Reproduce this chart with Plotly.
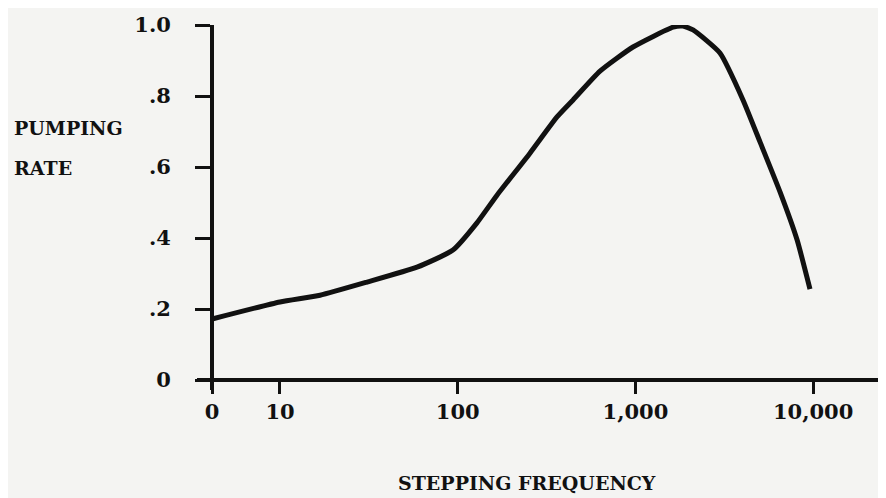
"""Pumping rate vs stepping frequency, redrawn from a scanned figure."""
import plotly.graph_objects as go

# "0" on the frequency axis sits about 0.38 decade below 10
ZERO_POS = 4.15

freq = [ZERO_POS, 10, 16.8, 30.9, 59, 94, 128, 166, 255, 362, 446, 632, 969,
        1630, 1850, 2110, 2990, 4030, 5030, 6510, 8120, 9600]
rate = [0.172, 0.22, 0.239, 0.276, 0.318, 0.366, 0.442, 0.52, 0.639, 0.741,
        0.789, 0.870, 0.938, 0.994, 0.997, 0.986, 0.921, 0.789, 0.670, 0.530, 0.395, 0.256]

x_tickvals = [ZERO_POS, 10, 100, 1000, 10000]
x_ticktext = ['0', '10', '100', '1,000', '10,000']
y_tickvals = [0, 0.2, 0.4, 0.6, 0.8, 1.0]
y_ticktext = ['0', '.2', '.4', '.6', '.8', '1.0']

INK = '#111111'
PAPER = '#f4f4f2'
FONT = 'DejaVu Serif'
TICK_FONT = dict(family=FONT, size=21, color=INK, weight='bold')

fig = go.Figure(go.Scatter(
    x=freq,
    y=rate,
    mode='lines',
    line=dict(color=INK, width=5, shape='spline', smoothing=0.5),
    hoverinfo='skip'
))

# page body adds an 8px margin, so the figure is 8px smaller and margins shift by 8
fig.update_layout(
    width=878,
    height=490,
    margin=dict(l=189, r=0, t=17, b=108),
    paper_bgcolor=PAPER,
    plot_bgcolor=PAPER,
    showlegend=False,
    font=dict(family=FONT, size=19, color=INK, weight='bold'),
    xaxis=dict(
        type='log',
        range=[0.533, 4.41],
        anchor='free',
        position=0.0274,
        tickvals=x_tickvals,
        ticktext=x_ticktext,
        tickfont=TICK_FONT,
        ticks='outside',
        ticklen=12,
        tickwidth=3,
        tickcolor=INK,
        showline=True,
        linewidth=4,
        linecolor=INK,
        showgrid=False,
        zeroline=False
    ),
    yaxis=dict(
        range=[-0.028, 1.0],
        anchor='free',
        position=0.0218,
        tickvals=y_tickvals,
        ticktext=y_ticktext,
        tickfont=TICK_FONT,
        ticks='outside',
        ticklen=15,
        tickwidth=3,
        tickcolor=INK,
        ticklabelstandoff=20,
        showline=True,
        linewidth=4,
        linecolor=INK,
        showgrid=False,
        zeroline=False
    )
)

# axis titles, placed as in the original typed figure
fig.add_annotation(text='PUMPING', x=-0.2685, y=0.718, xref='paper', yref='paper',
                   xanchor='left', yanchor='middle', showarrow=False)
fig.add_annotation(text='RATE', x=-0.2685, y=0.608, xref='paper', yref='paper',
                   xanchor='left', yanchor='middle', showarrow=False)
fig.add_annotation(text='STEPPING FREQUENCY', x=0.479, y=-0.255, xref='paper', yref='paper',
                   xanchor='center', yanchor='middle', showarrow=False)

fig.write_html("out.html")
